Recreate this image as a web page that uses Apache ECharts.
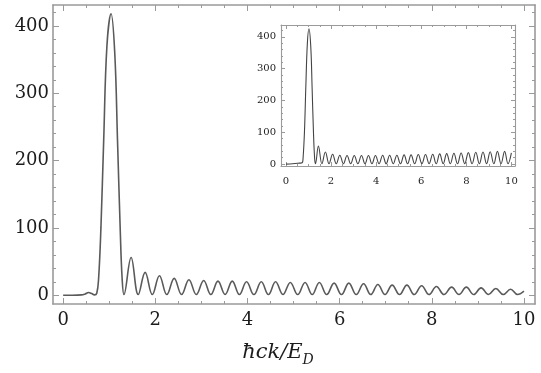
<!DOCTYPE html>
<html>
<head>
<meta charset="utf-8">
<script src="https://cdn.jsdelivr.net/npm/echarts@6/dist/echarts.min.js"></script>
<style>
  html, body { margin: 0; padding: 0; background: #fff; }
  #chart { width: 541px; height: 373px; }
</style>
</head>
<body>
<div id="chart"></div>
<script>
// main curve (x = hck/E_D)
const mainX = [0, 0.2, 0.4, 0.48, 0.55, 0.62, 0.68, 0.73,
    0.77, 0.82, 0.88, 0.95, 1.04, 1.12, 1.18, 1.24, 1.28, 1.32,
    1.475, 1.63, 1.78, 1.935, 2.09, 2.25, 2.41, 2.57, 2.73, 2.89, 3.05, 3.205,
    3.36, 3.515, 3.67, 3.825, 3.98, 4.14, 4.30, 4.455, 4.61, 4.77, 4.93, 5.09,
    5.25, 5.405, 5.56, 5.72, 5.88, 6.04, 6.20, 6.36, 6.52, 6.675, 6.83, 6.985,
    7.14, 7.30, 7.46, 7.62, 7.78, 7.94, 8.10, 8.265, 8.43, 8.59, 8.75, 8.91,
    9.07, 9.23, 9.39, 9.55, 9.71, 9.86, 10.0];
const mainY = [0, 0, 0.5, 2, 4, 2.5, 0.5, 3,
    25, 100, 230, 370, 418, 360, 230, 95, 25, 1,
    56, 1, 34, 1, 29, 1, 25, 1, 23, 1, 22, 1,
    21, 1, 21, 1, 20, 1, 20, 1, 20, 1, 19, 1,
    19, 1, 19, 1, 18, 1, 18, 1, 17, 1, 16, 1,
    15, 1, 15, 1, 14, 1, 13, 1, 12, 1, 12, 1,
    11, 1, 10, 1, 9, 1, 6];

// inset curve
const insetX = [0, 0.3, 0.6, 0.72,
    0.76, 0.82, 0.88, 0.95, 1.02, 1.1, 1.16, 1.22, 1.27, 1.31,
    1.44, 1.595, 1.75, 1.91, 2.07, 2.23, 2.39, 2.55, 2.71, 2.87, 3.03, 3.19,
    3.35, 3.505, 3.66, 3.815, 3.97, 4.13, 4.29, 4.445, 4.60, 4.76, 4.92, 5.08,
    5.24, 5.395, 5.55, 5.71, 5.87, 6.03, 6.19, 6.35, 6.51, 6.665, 6.82, 6.975,
    7.13, 7.29, 7.45, 7.61, 7.77, 7.93, 8.09, 8.255, 8.42, 8.58, 8.74, 8.90,
    9.06, 9.22, 9.38, 9.54, 9.70, 9.85, 10.0];
const insetY = [0, 1, 3, 4,
    20, 100, 240, 380, 425, 370, 240, 100, 20, 1,
    57, 1, 38, 1, 31, 1, 28, 1, 27, 1, 27, 1,
    27, 1, 27, 1, 27, 1, 28, 1, 28, 1, 28, 1,
    29, 1, 29, 1, 30, 1, 30, 1, 31, 1, 32, 1,
    33, 1, 34, 1, 35, 1, 36, 1, 37, 1, 38, 1,
    39, 1, 40, 1, 40, 1, 35];

// tick labels / tick marks
const xMajor = [0, 2, 4, 6, 8, 10];
const xMinor = [0.5, 1, 1.5, 2.5, 3, 3.5, 4.5, 5, 5.5, 6.5, 7, 7.5, 8.5, 9, 9.5];
const yMajor = [0, 100, 200, 300, 400];
const yMinor = [20, 40, 60, 80, 120, 140, 160, 180, 220, 240, 260, 280, 320, 340, 360, 380, 420];

const FRAME = '#9a9a9a';
const TEXT = '#1c1c1c';

function zip(xs, ys) {
    return xs.map((x, i) => [x, ys[i]]);
}

// one frame = 4 axes per dimension (major + minor ticks on both sides)
function frameAxes(dim, gi, min, max, major, minor, o) {
    const sides = dim === 'x' ? ['bottom', 'top'] : ['left', 'right'];
    const res = [];
    sides.forEach((side, si) => {
        res.push({
            type: 'value', gridIndex: gi, position: side, min: min, max: max,
            axisLine: { show: true, onZero: false, lineStyle: { color: FRAME, width: o.lw } },
            axisTick: { show: true, inside: true, length: o.major, customValues: major,
                lineStyle: { color: FRAME, width: 1 } },
            axisLabel: {
                show: si === 0, customValues: major, margin: dim === 'x' ? o.xm : o.ym,
                color: TEXT, fontFamily: 'DejaVu Serif', fontSize: o.fs
            },
            splitLine: { show: false }
        });
        res.push({
            type: 'value', gridIndex: gi, position: side, min: min, max: max,
            axisLine: { show: false, onZero: false },
            axisTick: { show: true, inside: true, length: o.minor, customValues: minor,
                lineStyle: { color: FRAME, width: 1 } },
            axisLabel: { show: false },
            splitLine: { show: false }
        });
    });
    return res;
}

const mainOpt = { lw: 1.6, major: 6, minor: 3, fs: 18, xm: 7, ym: 4 };
const insetOpt = { lw: 1.1, major: 4, minor: 2, fs: 10, xm: 10, ym: 5 };

const chart = echarts.init(document.getElementById('chart'), null, { renderer: 'canvas' });

chart.setOption({
    backgroundColor: '#fff',
    animation: false,
    grid: [
        { left: 53, right: 6, top: 5, bottom: 69 },
        { left: 281, right: 26, top: 25, bottom: 207, show: true, backgroundColor: '#fff', borderWidth: 0 }
    ],
    xAxis: frameAxes('x', 0, -0.22, 10.24, xMajor, xMinor, mainOpt)
        .concat(frameAxes('x', 1, -0.22, 10.16, xMajor, xMinor, insetOpt)),
    yAxis: frameAxes('y', 0, -13, 431, yMajor, yMinor, mainOpt)
        .concat(frameAxes('y', 1, -6, 437, yMajor, yMinor, insetOpt)),
    series: [
        {
            type: 'line', xAxisIndex: 0, yAxisIndex: 0,
            data: zip(mainX, mainY),
            smooth: 0.4, showSymbol: false,
            lineStyle: { color: '#5a5a5a', width: 1.6 }
        },
        {
            type: 'line', xAxisIndex: 4, yAxisIndex: 4,
            data: zip(insetX, insetY),
            smooth: 0.4, showSymbol: false,
            lineStyle: { color: '#444', width: 1.1 }
        }
    ],
    graphic: [
        {
            type: 'text', x: 278, y: 353,
            style: {
                text: '{a|ħck/E}{b|D}',
                align: 'center', verticalAlign: 'middle',
                rich: {
                    a: { fontFamily: 'DejaVu Serif', fontStyle: 'italic', fontSize: 21, lineHeight: 28, fill: TEXT, verticalAlign: 'middle' },
                    b: { fontFamily: 'DejaVu Serif', fontStyle: 'italic', fontSize: 14, lineHeight: 16, fill: TEXT, verticalAlign: 'bottom' }
                }
            }
        }
    ]
});
</script>
</body>
</html>
